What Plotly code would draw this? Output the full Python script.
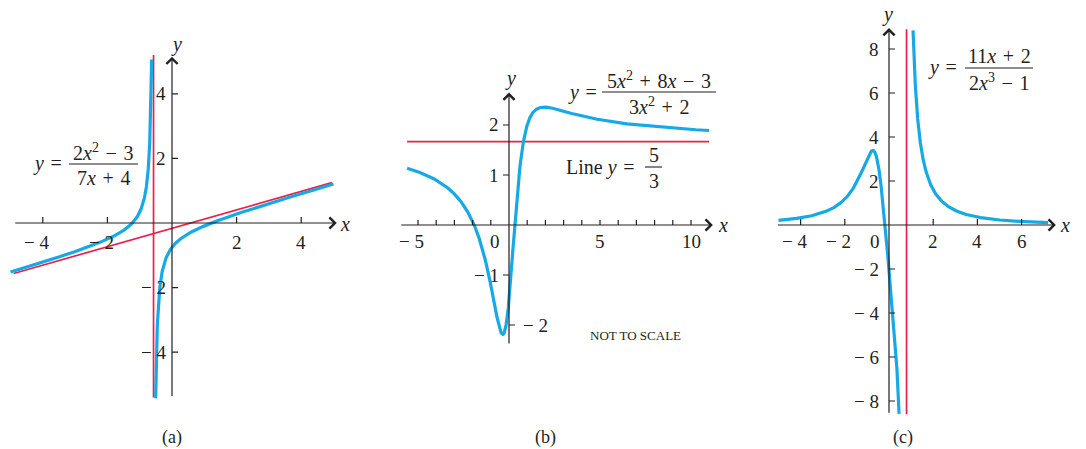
import numpy as np
import plotly.graph_objects as go

W, H = 1086, 449
BLUE = "#17A9E6"
RED = "#E6224C"
INK = "#231F20"
FONT = "Liberation Serif"
SP = "\u200a "  # a touch wider, math-like spacing round the operators

# (a) y = (2x^2 - 3) / (7x + 4), asymptotes x = -4/7 and y = 2x/7 - 8/49
A_NUM = [2, 0, -3]
A_DEN = [7, 4]
A_VERT = -4 / 7
A_SLANT = [2 / 7, -8 / 49]
A_XTICKS = [-4, -2, 2, 4]
A_YTICKS = [-4, -2, 2, 4]

# (b) y = (5x^2 + 8x - 3) / (3x^2 + 2), asymptote y = 5/3
B_NUM = [5, 8, -3]
B_DEN = [3, 0, 2]
B_HORIZ = 5 / 3
B_XTICKS = [-5, -4, -3, -2, -1, 1, 2, 3, 4, 5, 6, 7, 8, 9, 10]
B_XLABELS = [-5, 5, 10]
B_YTICKS = [-2, -1, 1, 2]

# (c) y = (11x + 2) / (2x^3 - 1), asymptote x = (1/2)^(1/3)
C_NUM = [11, 2]
C_DEN = [2, 0, 0, -1]
C_VERT = 0.5 ** (1 / 3)
C_XTICKS = [-4, -2, 2, 4, 6]
C_YTICKS = [-8, -6, -4, -2, 2, 4, 6, 8]

# pixel origin / pixels per unit / data range of each panel
PANELS = {
    "a": dict(ax="", ox=172, oy=223, sx=32.3, sy=32.3, xr=(-5.3, 5.3), yr=(-5.8, 5.8)),
    "b": dict(ax="2", ox=509, oy=225, sx=18.2, sy=50.0, xr=(-6.4, 12.0), yr=(-2.6, 2.8)),
    "c": dict(ax="3", ox=889, oy=225, sx=22.1, sy=22.0, xr=(-5.3, 8.4), yr=(-9.2, 9.6)),
}

TICK_SIZE = 19
TEXT_SIZE = 20

fig = go.Figure()
shapes, annos = [], []


def branch(num, den, lo, hi, ymin, ymax, n=4000):
    x = np.linspace(lo, hi, n)
    y = np.polyval(num, x) / np.polyval(den, x)
    keep = (y >= ymin) & (y <= ymax)
    return x[keep], y[keep]


def line(p, x, y, color, width):
    a = PANELS[p]["ax"]
    fig.add_trace(go.Scatter(x=x, y=y, mode="lines", line=dict(color=color, width=width),
                             xaxis="x" + a, yaxis="y" + a, hoverinfo="skip"))


def axis_arrow(p, x0, y0, x1, y1):
    a = PANELS[p]["ax"]
    annos.append(dict(x=x1, y=y1, ax=x0, ay=y0, xref="x" + a, yref="y" + a,
                      axref="x" + a, ayref="y" + a, text="", showarrow=True,
                      arrowhead=4, arrowsize=1.8, arrowwidth=1.2, arrowcolor=INK, standoff=0))


def tick(p, t, along, side=1, size=6):
    P = PANELS[p]
    a = P["ax"]
    if along == "x":
        x0, y0, x1, y1 = t, 0, t, size / P["sy"]
    else:
        x0, y0, x1, y1 = 0, t, side * size / P["sx"], t
    shapes.append(dict(type="line", xref="x" + a, yref="y" + a, x0=x0, y0=y0, x1=x1, y1=y1,
                       line=dict(color=INK, width=1.2)))


def fmt(t):
    return f"\u2212 {abs(t)}" if t < 0 else str(t)


def label(p, x, y, text, xanchor="center", xshift=0, yshift=0, size=TICK_SIZE):
    a = PANELS[p]["ax"]
    annos.append(dict(x=x, y=y, xref="x" + a, yref="y" + a, text=text, showarrow=False,
                      xanchor=xanchor, yanchor="middle", xshift=xshift, yshift=yshift,
                      font=dict(family=FONT, size=size, color=INK)))


def ptext(px, py, text, size=TEXT_SIZE, xanchor="center"):
    annos.append(dict(x=px / W, y=1 - py / H, xref="paper", yref="paper", text=text,
                      showarrow=False, xanchor=xanchor, yanchor="middle",
                      font=dict(family=FONT, size=size, color=INK)))


def frac(px0, px1, py, num, den, size=TEXT_SIZE, up=12, down=14):
    shapes.append(dict(type="line", xref="paper", yref="paper", x0=px0 / W, x1=px1 / W,
                       y0=1 - py / H, y1=1 - py / H, line=dict(color=INK, width=1.1)))
    ptext((px0 + px1) / 2, py - up, num, size)
    ptext((px0 + px1) / 2, py + down, den, size)


# ---------- panel (a)
axis_arrow("a", -4.9, 0, 5.1, 0)
axis_arrow("a", 0, -5.4, 0, 5.15)
line("a", [A_VERT, A_VERT], [-5.4, 5.2], RED, 1.7)
sx = np.array([-4.9, 4.95])
line("a", sx, np.polyval(A_SLANT, sx), RED, 1.7)
x, y = branch(A_NUM, A_DEN, -5.0, A_VERT - 1e-5, -10, 5.1)
line("a", x, y, BLUE, 3.2)
x, y = branch(A_NUM, A_DEN, A_VERT + 1e-5, 5.0, -5.45, 10)
line("a", x, y, BLUE, 3.2)
for t in A_XTICKS:
    tick("a", t, "x")
    label("a", t, 0, fmt(t), xshift=-6 if t < 0 else 0, yshift=-19)
for t in A_YTICKS:
    tick("a", t, "y", side=1)
    label("a", 0, t, fmt(t), xanchor="right", xshift=-4)
ptext(176, 44, "<i>y</i>")
ptext(345, 224, "<i>x</i>")
ptext(47, 164, f"<i>y</i>{SP}=")
frac(69, 138, 164, f"2<i>x</i><sup>2</sup>{SP}\u2212{SP}3", f"7<i>x</i>{SP}+{SP}4")

# ---------- panel (b)
axis_arrow("b", -6.0, 0, 11.2, 0)
axis_arrow("b", 0, -2.4, 0, 2.65)
line("b", [-5.6, 11.0], [B_HORIZ, B_HORIZ], RED, 1.7)
x, y = branch(B_NUM, B_DEN, -5.6, 11.0, -10, 10)
line("b", x, y, BLUE, 3.2)
for t in B_XTICKS:
    tick("b", t, "x", size=5)
for t in B_XLABELS:
    label("b", t, 0, fmt(t), xshift=-6 if t < 0 else 0, yshift=-16)
label("b", 0, 0, "0", xshift=-14, yshift=-16)
for t in B_YTICKS:
    if t == -2:
        tick("b", t, "y", side=1)
        label("b", 0, t, fmt(t), xanchor="left", xshift=12)
    else:
        tick("b", t, "y", side=-1)
        label("b", 0, t, fmt(t), xanchor="right", xshift=-8)
ptext(510, 78, "<i>y</i>")
ptext(723, 225, "<i>x</i>")
ptext(582, 92, f"<i>y</i>{SP}=")
frac(602, 716, 92, f"5<i>x</i><sup>2</sup>{SP}+{SP}8<i>x</i>{SP}\u2212{SP}3",
     f"3<i>x</i><sup>2</sup>{SP}+{SP}2")
ptext(600, 167, f"Line <i>y</i>{SP}=")
frac(645, 662, 167, "5", "3")
ptext(635, 335, "NOT TO SCALE", size=13)

# ---------- panel (c)
axis_arrow("c", -5.1, 0, 7.55, 0)
axis_arrow("c", 0, -8.6, 0, 8.95)
line("c", [C_VERT, C_VERT], [-8.6, 8.9], RED, 1.7)
x, y = branch(C_NUM, C_DEN, -5.0, C_VERT - 1e-5, -8.6, 20)
line("c", x, y, BLUE, 3.2)
x, y = branch(C_NUM, C_DEN, C_VERT + 1e-5, 7.2, -20, 8.9)
line("c", x, y, BLUE, 3.2)
for t in C_XTICKS:
    tick("c", t, "x")
    label("c", t, 0, fmt(t), xshift=-6 if t < 0 else 0, yshift=-16)
label("c", 0, 0, "0", xshift=-14, yshift=-16)
for t in C_YTICKS:
    tick("c", t, "y", side=1)
    label("c", 0, t, fmt(t), xanchor="right", xshift=-8)
ptext(887, 14, "<i>y</i>")
ptext(1065, 225, "<i>x</i>")
ptext(942, 68, f"<i>y</i>{SP}=")
frac(965, 1033, 68, f"11<i>x</i>{SP}+{SP}2", f"2<i>x</i><sup>3</sup>{SP}\u2212{SP}1")

# panel captions
ptext(172, 437, "(a)", size=18)
ptext(545, 437, "(b)", size=18)
ptext(903, 437, "(c)", size=18)

layout = dict(width=W, height=H, margin=dict(l=0, r=0, t=0, b=0),
              plot_bgcolor="white", paper_bgcolor="white", showlegend=False,
              font=dict(family=FONT, color=INK),
              shapes=shapes, annotations=annos)
for p, P in PANELS.items():
    a = P["ax"]
    xd = [(P["ox"] + P["sx"] * P["xr"][0]) / W, (P["ox"] + P["sx"] * P["xr"][1]) / W]
    yd = [1 - (P["oy"] - P["sy"] * P["yr"][0]) / H, 1 - (P["oy"] - P["sy"] * P["yr"][1]) / H]
    layout["xaxis" + a] = dict(domain=xd, range=list(P["xr"]), visible=False, fixedrange=True,
                               anchor="y" + a)
    layout["yaxis" + a] = dict(domain=yd, range=list(P["yr"]), visible=False, fixedrange=True,
                               anchor="x" + a)
fig.update_layout(**layout)

# page body has an 8px default margin; drop it so the figure sits at 0,0
fig.write_html("out.html", config={"displayModeBar": False},
               post_script="document.body.style.margin='0';")
